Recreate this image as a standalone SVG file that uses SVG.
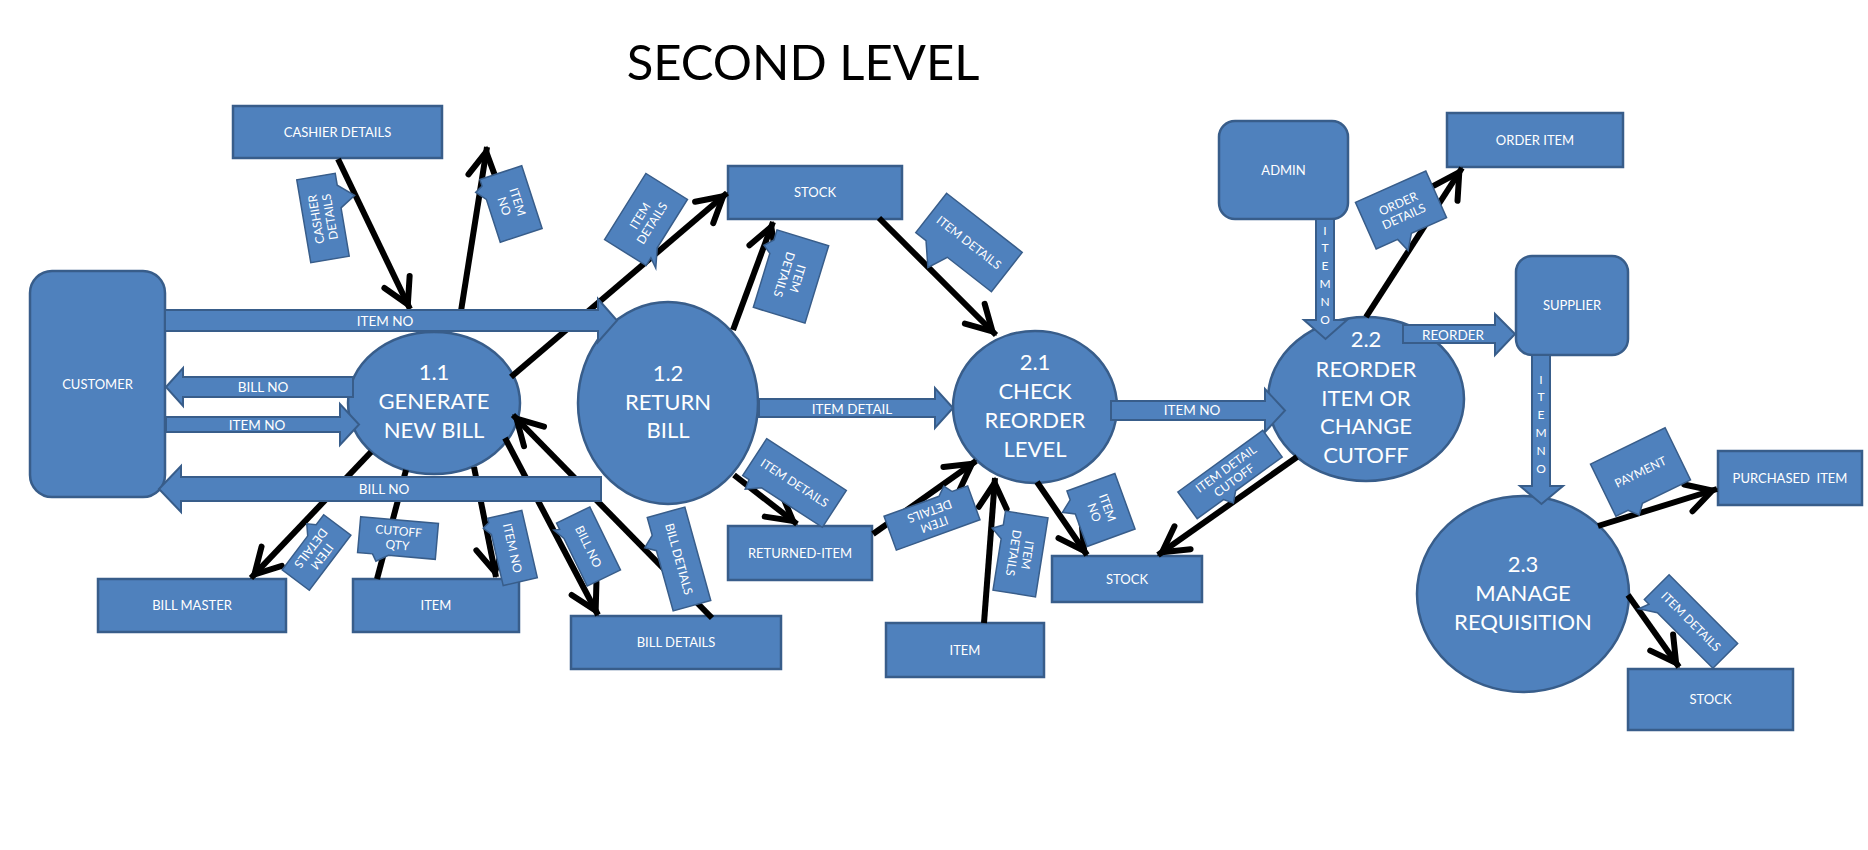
<svg xmlns="http://www.w3.org/2000/svg" width="1868" height="850" viewBox="0 0 1868 850">
<style>
.n{fill:#4F81BD;stroke:#385D8A;stroke-width:2.5}
.fa{fill:#4F81BD;stroke:#385D8A;stroke-width:2}
.co{fill:#4F81BD;stroke:#385D8A;stroke-width:1.5}
.t{font-family:Lato,"Liberation Sans",sans-serif;fill:#fff;text-anchor:middle}
.b{font-size:13px}
.c{font-size:22px}
.a{font-size:13.5px}
.s{font-size:12px}
.ln{stroke:#000;stroke-width:6;fill:none}
.ar{marker-end:url(#ah)}
</style>
<defs>
<marker id="ah" markerUnits="userSpaceOnUse" markerWidth="60" markerHeight="60" refX="5" refY="0" orient="auto" style="overflow:visible">
<path d="M-25,-14L0,0L-25,14" fill="none" stroke="#000" stroke-width="6" stroke-linecap="round" stroke-linejoin="miter"/>
</marker>
</defs>
<rect width="1868" height="850" fill="#fff"/>
<text x="803" y="80" font-family="Lato,'Liberation Sans',sans-serif" font-size="49" fill="#000" text-anchor="middle">SECOND LEVEL</text>

<g id="customer"><rect class="n" x="30" y="271" width="135" height="226" rx="22"/><text class="t b" x="97.5" y="388.5">CUSTOMER</text></g>
<g id="cashier-details"><rect class="n" x="233" y="106" width="209" height="52"/><text class="t b" x="337.5" y="136.5">CASHIER DETAILS</text></g>
<g id="stock-top"><rect class="n" x="728" y="166" width="174" height="53"/><text class="t b" x="815" y="197">STOCK</text></g>
<g id="returned-item"><rect class="n" x="728" y="526" width="144" height="54"/><text class="t b" x="800" y="557.5">RETURNED-ITEM</text></g>
<g id="stock-mid"><rect class="n" x="1052" y="556" width="150" height="46"/><text class="t b" x="1127" y="583.5">STOCK</text></g>
<g id="item-mid"><rect class="n" x="886" y="623" width="158" height="54"/><text class="t b" x="965" y="654.5">ITEM</text></g>
<g id="bill-master"><rect class="n" x="98" y="579" width="188" height="53"/><text class="t b" x="192" y="610">BILL MASTER</text></g>
<g id="item-left"><rect class="n" x="353" y="579" width="166" height="53"/><text class="t b" x="436" y="610">ITEM</text></g>
<g id="bill-details"><rect class="n" x="571" y="616" width="210" height="53"/><text class="t b" x="676" y="647">BILL DETAILS</text></g>
<g id="admin"><rect class="n" x="1219" y="121" width="129" height="98" rx="16"/><text class="t b" x="1283.5" y="174.5">ADMIN</text></g>
<g id="order-item"><rect class="n" x="1447" y="113" width="176" height="54"/><text class="t b" x="1535" y="144.5">ORDER ITEM</text></g>
<g id="supplier"><rect class="n" x="1516" y="256" width="112" height="99" rx="16"/><text class="t b" x="1572" y="310">SUPPLIER</text></g>
<g id="purchased-item"><rect class="n" x="1718" y="451" width="144" height="54"/><text class="t b" x="1790" y="482.5">PURCHASED&#160; ITEM</text></g>
<g id="stock-right"><rect class="n" x="1628" y="669" width="165" height="61"/><text class="t b" x="1710.5" y="704">STOCK</text></g>

<g id="p11"><ellipse class="n" cx="434" cy="403" rx="86" ry="71"/><text class="t c" x="434" y="380">1.1</text><text class="t c" x="434" y="409">GENERATE</text><text class="t c" x="434" y="438">NEW BILL</text></g>
<g id="p12"><ellipse class="n" cx="668" cy="403" rx="90" ry="101"/><text class="t c" x="668" y="381">1.2</text><text class="t c" x="668" y="410">RETURN</text><text class="t c" x="668" y="438">BILL</text></g>
<g id="p21"><ellipse class="n" cx="1035" cy="407" rx="82" ry="76"/><text class="t c" x="1035" y="370">2.1</text><text class="t c" x="1035" y="399">CHECK</text><text class="t c" x="1035" y="428">REORDER</text><text class="t c" x="1035" y="457">LEVEL</text></g>
<g id="p22"><ellipse class="n" cx="1366" cy="399" rx="98" ry="82"/><text class="t c" x="1366" y="347">2.2</text><text class="t c" x="1366" y="377">REORDER</text><text class="t c" x="1366" y="406">ITEM OR</text><text class="t c" x="1366" y="434">CHANGE</text><text class="t c" x="1366" y="463">CUTOFF</text></g>
<g id="p23"><ellipse class="n" cx="1523" cy="594" rx="106" ry="98"/><text class="t c" x="1523" y="572">2.3</text><text class="t c" x="1523" y="601">MANAGE</text><text class="t c" x="1523" y="630">REQUISITION</text></g>

<g id="connectors">
<g id="lines">
<line class="ln ar" x1="338" y1="159" x2="410" y2="309"/>
<line class="ln ar" x1="458" y1="330" x2="487" y2="147"/>
<line class="ln ar" x1="511" y1="377" x2="727" y2="193"/>
<line class="ln ar" x1="733" y1="330" x2="773" y2="222"/>
<line class="ln ar" x1="879" y1="218" x2="996" y2="335"/>
<line class="ln ar" x1="734" y1="475" x2="797" y2="524"/>
<line class="ln ar" x1="873" y1="534" x2="976" y2="461"/>
<line class="ln ar" x1="984" y1="623" x2="995" y2="478"/>
<line class="ln ar" x1="1037" y1="482" x2="1087" y2="555"/>
<line class="ln ar" x1="1297" y1="457" x2="1158" y2="555"/>
<line class="ln ar" x1="1366" y1="317" x2="1462" y2="168"/>
<line class="ln ar" x1="1598" y1="526" x2="1717" y2="489"/>
<line class="ln ar" x1="1628" y1="595" x2="1679" y2="667"/>
<line class="ln ar" x1="371" y1="452" x2="251" y2="578"/>
<line class="ln" x1="377" y1="579" x2="406" y2="470"/>
<line class="ln ar" x1="474" y1="467" x2="496" y2="577"/>
<line class="ln ar" x1="505" y1="438" x2="598" y2="615"/>
<line class="ln ar" x1="712" y1="618" x2="513" y2="415"/>
</g>
<g id="flows">
<path class="fa" d="M165,310H598V299L617,320.5L598,342V331H165Z"/><text class="t a" x="385" y="325.5">ITEM NO</text>
<path class="fa" d="M166,387L183,368V377H353V397H183V406Z"/><text class="t a" x="263" y="391.5">BILL NO</text>
<path class="fa" d="M166,417H340V404L359,424.5L340,445V432H166Z"/><text class="t a" x="257" y="429.5">ITEM NO</text>
<path class="fa" d="M159,489L181,466V477H601V501H181V512Z"/><text class="t a" x="384" y="494">BILL NO</text>
<path class="fa" d="M759,399H935V388L953,408L935,428V417H759Z"/><text class="t a" x="852" y="413.5">ITEM DETAIL</text>
<path class="fa" d="M1111,401H1265V389L1285,410.5L1265,432V420H1111Z"/><text class="t a" x="1192" y="415">ITEM NO</text>
<path class="fa" d="M1316,219H1334V320H1347L1325.5,339L1304,320H1316Z"/>
<text class="t s" x="1325" y="234.5"><tspan x="1325">I</tspan><tspan x="1325" dy="17.8">T</tspan><tspan x="1325" dy="17.8">E</tspan><tspan x="1325" dy="17.8">M</tspan><tspan x="1325" dy="17.8">N</tspan><tspan x="1325" dy="17.8">O</tspan></text>
<path class="fa" d="M1403,325H1495V314L1515,334L1495,355V343H1403Z"/><text class="t a" x="1453" y="339.5">REORDER</text>
<path class="fa" d="M1532,355H1550V486H1563L1541.5,504L1520,486H1532Z"/>
<text class="t s" x="1541" y="383.5"><tspan x="1541">I</tspan><tspan x="1541" dy="17.8">T</tspan><tspan x="1541" dy="17.8">E</tspan><tspan x="1541" dy="17.8">M</tspan><tspan x="1541" dy="17.8">N</tspan><tspan x="1541" dy="17.8">O</tspan></text>
</g>
<g id="labels">
<g transform="translate(323,218) rotate(-99.6)"><path class="co" d="M-42,-19.5H42V19.5H30L17,35L7,19.5H-42Z"/><text class="t s" y="-2.7">CASHIER</text><text class="t s" y="11.3">DETAILS</text></g>
<g transform="translate(511,204) rotate(72)"><path class="co" d="M-33,-22H33V22H-12L-22,30L-26,22H-33Z"/><text class="t s" y="-2.7">ITEM</text><text class="t s" y="11.3">NO</text></g>
<g transform="translate(646,219.5) rotate(-58)"><path class="co" d="M-39,-24.5H39V24.5H-18L-36,34L-30,24.5H-39Z"/><text class="t s" y="-2.7">ITEM</text><text class="t s" y="11.3">DETAILS</text></g>
<g transform="translate(791,276.5) rotate(107)"><path class="co" d="M-40.5,-27H40.5V27H-16L-22,35L-30,27H-40.5Z"/><text class="t s" y="-2.7">ITEM</text><text class="t s" y="11.3">DETAILS</text></g>
<g transform="translate(969,242.5) rotate(38)"><path class="co" d="M-48,-25H48V25H-8L-17,45L-35,25H-48Z"/><text class="t s" y="4.3">ITEM DETAILS</text></g>
<g transform="translate(794.5,483) rotate(33)"><path class="co" d="M-47.5,-22H47.5V22H-25L-38,32L-40,22H-47.5Z"/><text class="t s" y="4.3">ITEM DETAILS</text></g>
<g transform="translate(932,518) rotate(160)"><path class="co" d="M-44.5,-18H44.5V18H-14L-22,26L-28,18H-44.5Z"/><text class="t s" y="-2.7">ITEM</text><text class="t s" y="11.3">DETAILS</text></g>
<g transform="translate(1020.5,554) rotate(99)"><path class="co" d="M-40,-21.5H40V21.5H-12L-21,32L-26,21.5H-40Z"/><text class="t s" y="-2.7">ITEM</text><text class="t s" y="11.3">DETAILS</text></g>
<g transform="translate(1101,510) rotate(70)"><path class="co" d="M-29.5,-25.5H29.5V25.5H-5L-11,37L-20,25.5H-29.5Z"/><text class="t s" y="-2.7">ITEM</text><text class="t s" y="11.3">NO</text></g>
<g transform="translate(1230,474.5) rotate(-36)"><path class="co" d="M-52.5,-16.5H52.5V16.5H-5L-14,25L-20,16.5H-52.5Z"/><text class="t s" y="-2.7">ITEM DETAIL</text><text class="t s" y="11.3">CUTOFF</text></g>
<g transform="translate(1401,210) rotate(-24)"><path class="co" d="M-38.5,-25.5H38.5V25.5H0L-10,40L-15,25.5H-38.5Z"/><text class="t s" y="-2.7">ORDER</text><text class="t s" y="11.3">DETAILS</text></g>
<g transform="translate(1640.5,472) rotate(-26)"><path class="co" d="M-41.5,-29H41.5V29H-12L-20,38L-28,29H-41.5Z"/><text class="t s" y="4.3">PAYMENT</text></g>
<g transform="translate(1691,621.5) rotate(45)"><path class="co" d="M-48.5,-17.5H48.5V17.5H-30L-46,28L-42,17.5H-48.5Z"/><text class="t s" y="4.3">ITEM DETAILS</text></g>
<g transform="translate(316.5,552.5) rotate(127)"><path class="co" d="M-34.5,-17H34.5V17H-8L-17,25L-22,17H-34.5Z"/><text class="t s" y="-2.7">ITEM</text><text class="t s" y="11.3">DETAILS</text></g>
<g transform="translate(398,538) rotate(5)"><path class="co" d="M-39,-18H39V18H-8L-20,25L-24,18H-39Z"/><text class="t s" y="-2.7">CUTOFF</text><text class="t s" y="11.3">QTY</text></g>
<g transform="translate(512.5,548) rotate(77)"><path class="co" d="M-34.5,-17.5H34.5V17.5H-18L-26,24L-30,17.5H-34.5Z"/><text class="t s" y="4.3">ITEM NO</text></g>
<g transform="translate(588.5,546.5) rotate(64)"><path class="co" d="M-35,-18.5H35V18.5H-18L-30,24L-28,18.5H-35Z"/><text class="t s" y="4.3">BILL NO</text></g>
<g transform="translate(679,559) rotate(74.5)"><path class="co" d="M-48.5,-19.5H48.5V19.5H-14L-20,30L-30,19.5H-48.5Z"/><text class="t s" y="4.3">BILL DETIALS</text></g>
</g>
</g>
</svg>
